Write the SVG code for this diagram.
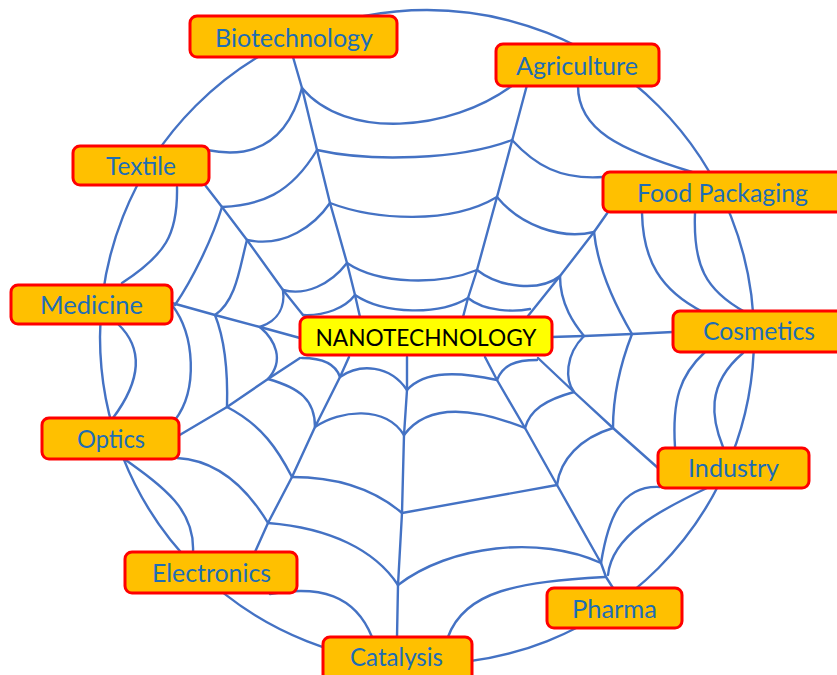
<svg xmlns="http://www.w3.org/2000/svg" width="837" height="675" viewBox="0 0 837 675">
<style>
.web{fill:none;stroke:#4472C4;stroke-width:2.4;stroke-linecap:round;stroke-linejoin:round}
.box{fill:#FFC000;stroke:#FF0000;stroke-width:3}
.core{fill:#FFFF00;stroke:#FF0000;stroke-width:3}
.lbl{font-family:Lato,"Open Sans","Liberation Sans",sans-serif;font-size:25.5px;fill:#1E6DB5;text-anchor:middle}
.clbl{font-family:Lato,"Open Sans","Liberation Sans",sans-serif;font-size:24px;fill:#000;text-anchor:middle}
</style>
<rect width="837" height="675" fill="#fff"/>
<g id="connectors">
<circle class="web" cx="427" cy="337" r="327"/>
<polyline class="web" points="293,57 302,88 317,150 330,203 347,263 355,295 360,317"/>
<polyline class="web" points="527,85 512,141 497,197 477,270 468,298 463,317"/>
<polyline class="web" points="205,185 222,207 247,240 283,290 303,315"/>
<polyline class="web" points="608,212 594,232 560,276 528,316"/>
<polyline class="web" points="172,303 215,315 260,327 300,338"/>
<polyline class="web" points="551,337 584,336 632,334 673,332"/>
<polyline class="web" points="178,436 227,407 268,379 300,358"/>
<polyline class="web" points="538,358 574,392 613,428 658,468"/>
<polyline class="web" points="255,552 268,523 292,477 315,427 340,377 349,357"/>
<polyline class="web" points="397,637 398,585 402,513 404,435 407,390 407,357"/>
<polyline class="web" points="613,588 606,577 601,563 557,485 525,428 497,380 485,357"/>
<path class="web" d="M302,88 Q281.5,165 207,150"/>
<path class="web" d="M302,88 C345,140 450,132 513,85"/>
<path class="web" d="M578,86 C578,130 620,150 692,172"/>
<path class="web" d="M642,213 C643,260 660,290 703,312"/>
<path class="web" d="M695,213 C693,265 705,290 745,312"/>
<path class="web" d="M705,352 C680,375 672,400 675,447"/>
<path class="web" d="M743,353 C705,385 712,420 723,447"/>
<path class="web" d="M660,487 C620,485 608,520 601,563"/>
<path class="web" d="M707,488 C660,510 612,535 608,575"/>
<path class="web" d="M605,577 C520,582 465,590 448,637"/>
<path class="web" d="M372,637 C355,595 320,585 270,594"/>
<path class="web" d="M193,552 C195,510 165,488 123,458"/>
<path class="web" d="M113,418 C145,375 140,345 118,324"/>
<path class="web" d="M122,283 C165,255 178,235 177,187"/>
<path class="web" d="M222,207 C260,205 290,195 317,150"/>
<path class="web" d="M317,150 C370,162 460,160 512,140"/>
<path class="web" d="M512,140 C535,165 560,180 603,177"/>
<path class="web" d="M247,240 C285,248 315,225 330,203"/>
<path class="web" d="M330,203 C375,220 450,225 497,197"/>
<path class="web" d="M497,197 C520,225 560,240 594,232"/>
<path class="web" d="M283,290 C305,296 330,285 347,263"/>
<path class="web" d="M347,263 C380,285 440,285 477,270"/>
<path class="web" d="M477,270 C500,288 540,292 560,276"/>
<path class="web" d="M303,315 C325,316 345,308 355,295"/>
<path class="web" d="M355,295 C385,315 440,315 468,298"/>
<path class="web" d="M468,298 C485,312 515,312 530,309"/>
<path class="web" d="M594,232 C598,270 615,305 632,334"/>
<path class="web" d="M560,276 C560,305 575,325 584,336"/>
<path class="web" d="M584,336 C565,355 565,380 574,392"/>
<path class="web" d="M632,334 C618,370 613,400 613,428"/>
<path class="web" d="M574,392 C545,400 530,410 525,428"/>
<path class="web" d="M613,428 C580,438 560,460 557,485"/>
<path class="web" d="M525,428 C480,410 430,400 404,435"/>
<path class="web" d="M497,380 C460,372 425,370 407,390"/>
<path class="web" d="M497,380 C503,365 515,360 537,360"/>
<path class="web" d="M557,485 L402,513"/>
<path class="web" d="M601,563 C540,535 450,545 398,585"/>
<path class="web" d="M402,513 C375,490 340,477 292,477"/>
<path class="web" d="M315,427 C340,410 385,405 404,435"/>
<path class="web" d="M340,377 C360,363 390,365 407,390"/>
<path class="web" d="M340,377 C335,362 320,358 302,358"/>
<path class="web" d="M398,585 C375,550 330,528 268,523"/>
<path class="web" d="M292,477 C278,450 262,425 227,407"/>
<path class="web" d="M315,427 C315,400 300,388 268,379"/>
<path class="web" d="M268,523 C245,485 215,460 177,458"/>
<path class="web" d="M227,407 C228,370 225,340 215,315"/>
<path class="web" d="M268,379 C285,360 275,340 260,327"/>
<path class="web" d="M172,305 C195,335 198,390 175,420"/>
<path class="web" d="M215,315 C237,300 240,265 247,240"/>
<path class="web" d="M260,327 C280,320 285,305 283,290"/>
<path class="web" d="M175,305 C192,280 212,240 222,207"/>
</g>
<g id="biotechnology"><rect class="box" x="190" y="16" width="207" height="41" rx="7"/><text class="lbl" x="294" y="47" textLength="158" lengthAdjust="spacingAndGlyphs">Biotechnology</text></g>
<g id="agriculture"><rect class="box" x="496" y="44" width="163" height="42" rx="7"/><text class="lbl" x="577" y="74.5" textLength="122" lengthAdjust="spacingAndGlyphs">Agriculture</text></g>
<g id="textile"><rect class="box" x="73" y="146" width="136" height="39" rx="7"/><text class="lbl" x="141" y="175" textLength="70" lengthAdjust="spacingAndGlyphs">Textile</text></g>
<g id="food-packaging"><rect class="box" x="603" y="172" width="250" height="40" rx="7"/><text class="lbl" x="722.5" y="202" textLength="171" lengthAdjust="spacingAndGlyphs">Food Packaging</text></g>
<g id="medicine"><rect class="box" x="11" y="285" width="161" height="39" rx="7"/><text class="lbl" x="91.5" y="313.5" textLength="103" lengthAdjust="spacingAndGlyphs">Medicine</text></g>
<g id="nanotechnology"><rect class="core" x="300" y="317" width="252" height="38" rx="7"/><text class="clbl" x="426" y="345.5" textLength="221" lengthAdjust="spacingAndGlyphs">NANOTECHNOLOGY</text></g>
<g id="cosmetics"><rect class="box" x="673" y="311" width="190" height="41" rx="7"/><text class="lbl" x="759" y="340" textLength="112" lengthAdjust="spacingAndGlyphs">Cosmetics</text></g>
<g id="optics"><rect class="box" x="42" y="418" width="137" height="41" rx="7"/><text class="lbl" x="111" y="447.5" textLength="68" lengthAdjust="spacingAndGlyphs">Optics</text></g>
<g id="industry"><rect class="box" x="658" y="448" width="151" height="40" rx="7"/><text class="lbl" x="733.5" y="477" textLength="91" lengthAdjust="spacingAndGlyphs">Industry</text></g>
<g id="electronics"><rect class="box" x="125" y="552" width="172" height="41" rx="7"/><text class="lbl" x="211.5" y="582" textLength="119" lengthAdjust="spacingAndGlyphs">Electronics</text></g>
<g id="pharma"><rect class="box" x="547" y="588" width="135" height="40" rx="7"/><text class="lbl" x="614.5" y="617.5" textLength="85" lengthAdjust="spacingAndGlyphs">Pharma</text></g>
<g id="catalysis"><rect class="box" x="323" y="637" width="149" height="50" rx="7"/><text class="lbl" x="396.5" y="666" textLength="93" lengthAdjust="spacingAndGlyphs">Catalysis</text></g>
</svg>
